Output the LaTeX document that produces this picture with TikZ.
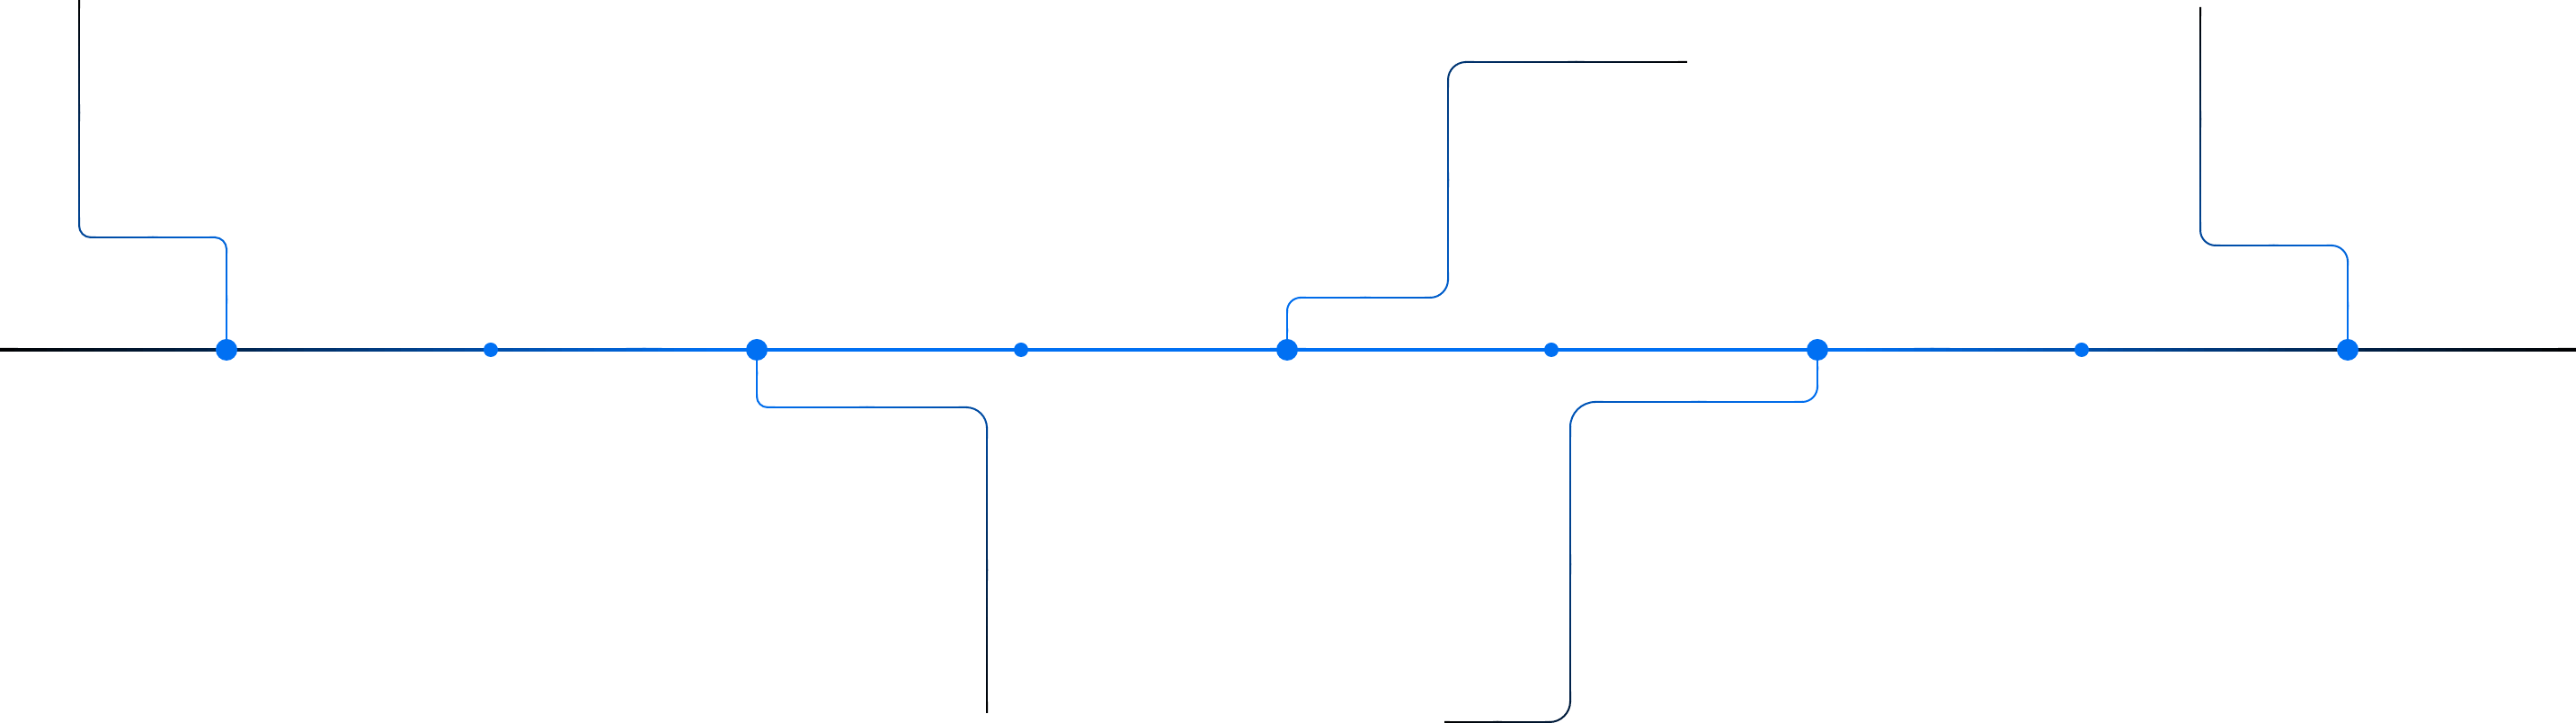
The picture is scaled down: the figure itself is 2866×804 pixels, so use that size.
\documentclass[tikz,border=0pt]{standalone}
\usetikzlibrary{calc,backgrounds}
\definecolor{tlblue}{RGB}{0,112,243}
% straight connector piece, coloured along the path (f0 -> f1)
\newcommand\tlseg[4]{%
  \foreach \tli in {1,...,30}{%
    \pgfmathsetmacro\tlf{#3+(\tli-0.5)/30*(#4-#3)}%
    \pgfmathsetmacro\tlp{100*(1-\tlf*sqrt(\tlf))}%
    \draw[conn,line cap=rect,tlblue!\tlp!black] ($(#1)!{(\tli-1)/30}!(#2)$) -- ($(#1)!{\tli/30}!(#2)$);}}
% rounded corner of a connector
\newcommand\tlarc[5]{%
  \pgfmathsetmacro\tlf{#5}%
  \pgfmathsetmacro\tlp{100*(1-\tlf*sqrt(\tlf))}%
  \draw[conn,tlblue!\tlp!black] (#1) arc[start angle=#2,end angle=#3,radius=#4];}
\begin{document}
\begin{tikzpicture}[x=0.01cm,y=-0.01cm,
  bigdot/.style={circle,fill=tlblue,draw=none,inner sep=0pt,minimum size=0.24cm},
  smalldot/.style={circle,fill=tlblue,draw=none,inner sep=0pt,minimum size=0.16cm},
  conn/.style={line width=0.02cm},
  mainline/.style={line width=0.04cm,line cap=rect}]
\useasboundingbox (0,0) rectangle (2866,804);
% timeline dots
\node[bigdot]   (d1) at (252,389) {};
\node[smalldot] (d2) at (546,389) {};
\node[bigdot]   (d3) at (842,389) {};
\node[smalldot] (d4) at (1136,389) {};
\node[bigdot]   (d5) at (1432,389) {};
\node[smalldot] (d6) at (1726,389) {};
\node[bigdot]   (d7) at (2022,389) {};
\node[smalldot] (d8) at (2316,389) {};
\node[bigdot]   (d9) at (2612,389) {};
% free ends
\coordinate (L) at (0,389);
\coordinate (R) at (2866,389);
\coordinate (e1) at (88,0);
\coordinate (e2) at (1098,792);
\coordinate (e3) at (1876,69);
\coordinate (e4) at (1608,803);
\coordinate (e5) at (2448,9);
\begin{pgfonlayer}{background}
% main timeline: black -> blue -> black
\foreach \tli in {1,...,160}{%
  \pgfmathsetmacro\tlf{(\tli-0.5)/160}%
  \pgfmathsetmacro\tlp{max(0,min(100,100*min(\tlf/0.28,(1-\tlf)/0.28)))}%
  \draw[mainline,tlblue!\tlp!black] ($(L)!{(\tli-1)/160}!(R)$) -- ($(L)!{\tli/160}!(R)$);}
% connector 1
\tlseg{d1.center}{252,277}{0}{.207}
\tlarc{252,277}{0}{-90}{13}{.226}
\tlseg{239,264}{101,264}{.244}{.499}
\tlarc{101,264}{90}{180}{13}{.518}
\tlseg{88,251}{e1}{.537}{1}
% connector 2
\tlseg{d3.center}{842,441}{0}{.081}
\tlarc{842,441}{180}{90}{12}{.095}
\tlseg{854,453}{1075,453}{.110}{.453}
\tlarc{1075,453}{-90}{0}{23}{.481}
\tlseg{1098,476}{e2}{.509}{1}
% connector 3
\tlseg{d5.center}{1432,346}{0}{.058}
\tlarc{1432,346}{180}{270}{15}{.074}
\tlseg{1447,331}{1591,331}{.090}{.284}
\tlarc{1591,331}{90}{0}{20}{.306}
\tlseg{1611,311}{1611,89}{.327}{.627}
\tlarc{1611,89}{180}{270}{20}{.648}
\tlseg{1631,69}{e3}{.669}{1}
% connector 4
\tlseg{d7.center}{2022,430}{0}{.051}
\tlarc{2022,430}{0}{90}{17}{.068}
\tlseg{2005,447}{1775,447}{.085}{.373}
\tlarc{1775,447}{270}{180}{28}{.400}
\tlseg{1747,475}{1747,780}{.428}{.810}
\tlarc{1747,780}{0}{90}{23}{.832}
\tlseg{1724,803}{e4}{.855}{1}
% connector 5
\tlseg{d9.center}{2612,291}{0}{.185}
\tlarc{2612,291}{0}{-90}{18}{.212}
\tlseg{2594,273}{2465,273}{.239}{.483}
\tlarc{2465,273}{90}{180}{17}{.508}
\tlseg{2448,256}{e5}{.533}{1}
\end{pgfonlayer}
\end{tikzpicture}
\end{document}
